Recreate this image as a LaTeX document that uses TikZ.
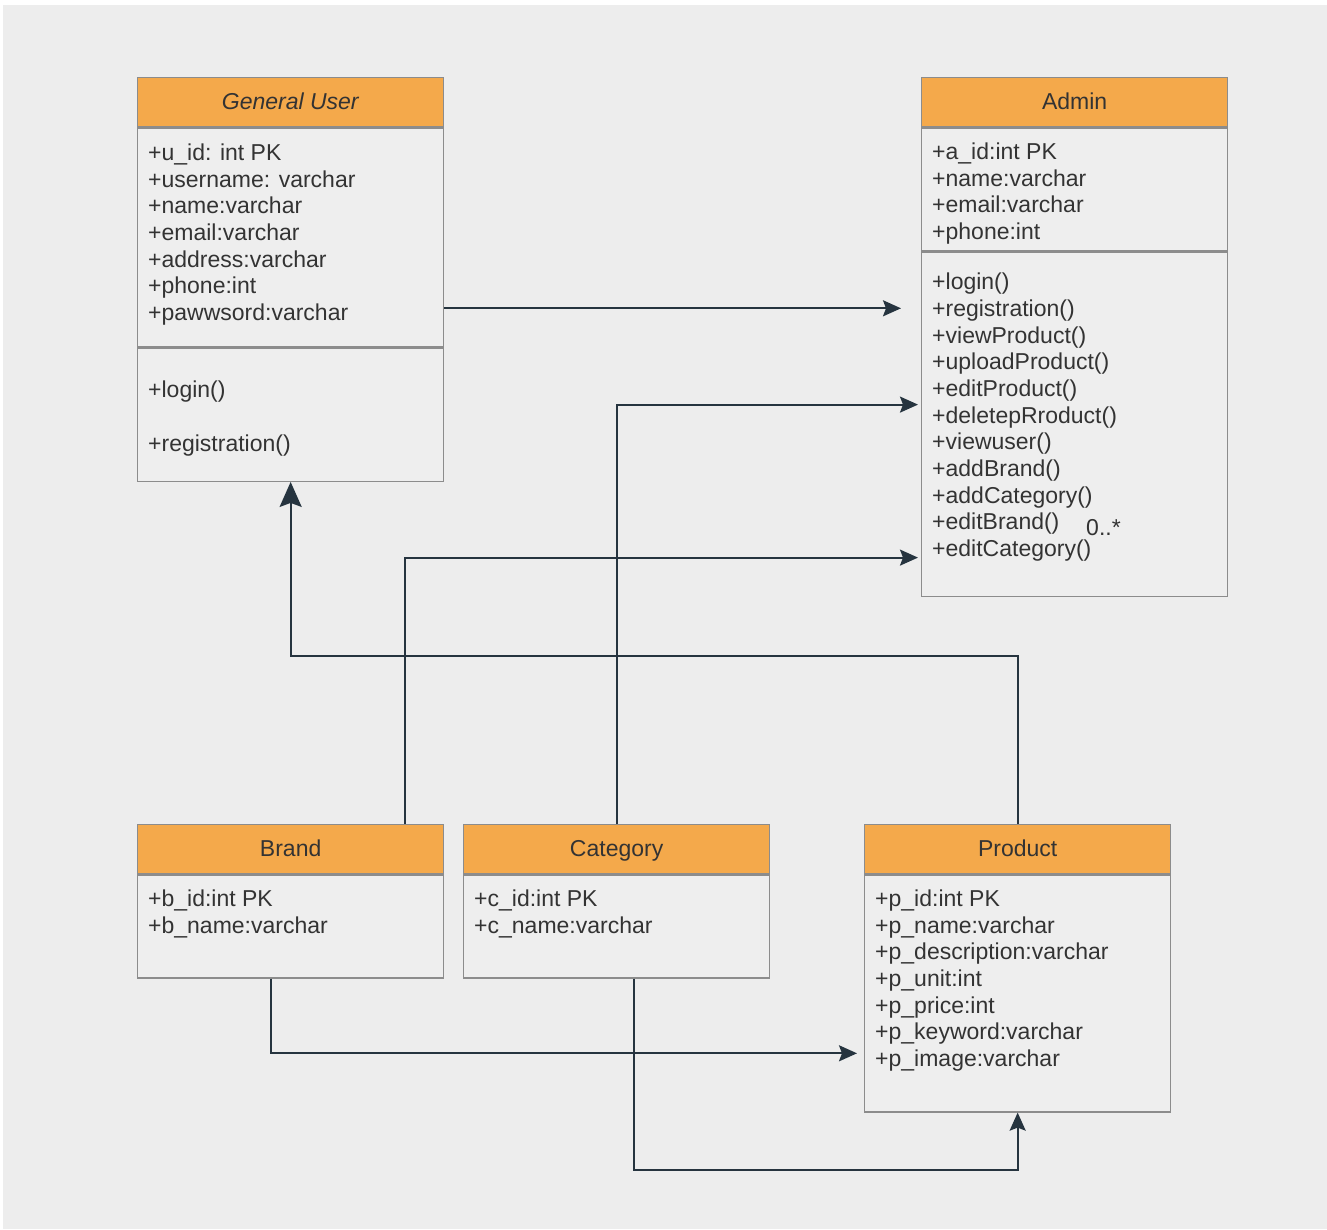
\documentclass[tikz,border=0pt]{standalone}
\usepackage{fontspec}
\setmainfont{Liberation Sans}
\usetikzlibrary{calc,arrows.meta}

\definecolor{pagebg}{HTML}{EDEDED}
\definecolor{hdrfill}{HTML}{F4A94B}
\definecolor{bodyfill}{HTML}{EEEEEE}
\definecolor{boxline}{HTML}{8C8C8C}
\definecolor{txt}{HTML}{333333}
\definecolor{linec}{HTML}{26343F}
\newcommand{\umlfont}{\fontsize{23}{27}\selectfont}

\begin{document}
\begin{tikzpicture}[x=1pt,y=-1pt,
  hdr/.style={draw=boxline, line width=1.3pt, fill=hdrfill, anchor=north west,
    minimum width=306pt, minimum height=49pt, inner sep=0pt, text=txt, font=\umlfont,
    text height=17.5pt, text depth=2pt},
  comp/.style={draw=boxline, line width=1.3pt, fill=bodyfill, anchor=north west,
    minimum width=306pt, minimum height=#1, inner sep=0pt},
  item/.style={anchor=base west, inner sep=0pt, text=txt, font=\umlfont},
  conn/.style={draw=linec, line width=2pt, -{Stealth[length=18pt,width=16pt,inset=3pt]}},
  bigconn/.style={draw=linec, line width=2pt, -{Stealth[length=25pt,width=22pt,inset=4pt]}},
]
\useasboundingbox (0,0) rectangle (1327,1229);
\fill[white] (0,0) rectangle (1327,1229);
\fill[pagebg] (3,5) rectangle (1327,1229);

% ---- General User ----
\node[hdr] (gu-h) at (137,77) {\textit{General User}};
\node[comp=219pt] (gu-a) at (gu-h.south west) {};
\node[comp=133pt] (gu-m) at (gu-a.south west) {};
\foreach \t [count=\i] in {{+u\_id: int PK},{+username: varchar},{+name:varchar},
  {+email:varchar},{+address:varchar},{+phone:int},{+pawwsord:varchar}}
  \node[item] (gu-a-\i) at ($(gu-a.north west)+(11,{33+(\i-1)*26.7})$) {\t};
\node[item] (gu-m-1) at ($(gu-m.north west)+(11,50)$) {+login()};
\node[item] (gu-m-2) at ($(gu-m.north west)+(11,104)$) {+registration()};

% ---- Admin ----
\node[hdr] (ad-h) at (921,77) {Admin};
\node[comp=123pt] (ad-a) at (ad-h.south west) {};
\node[comp=344pt] (ad-m) at (ad-a.south west) {};
\foreach \t [count=\i] in {{+a\_id:int PK},{+name:varchar},{+email:varchar},{+phone:int}}
  \node[item] (ad-a-\i) at ($(ad-a.north west)+(11,{32+(\i-1)*26.7})$) {\t};
\foreach \t [count=\i] in {{+login()},{+registration()},{+viewProduct()},{+uploadProduct()},
  {+editProduct()},{+deletepRroduct()},{+viewuser()},{+addBrand()},{+addCategory()},
  {+editBrand()},{+editCategory()}}
  \node[item] (ad-m-\i) at ($(ad-m.north west)+(11,{38+(\i-1)*26.7})$) {\t};
\node[item] (mult) at (1086,535) {0..*};

% ---- Brand ----
\node[hdr] (br-h) at (137,824) {Brand};
\node[comp=103pt] (br-a) at (br-h.south west) {};
\foreach \t [count=\i] in {{+b\_id:int PK},{+b\_name:varchar}}
  \node[item] (br-a-\i) at ($(br-a.north west)+(11,{32+(\i-1)*26.7})$) {\t};

% ---- Category ----
\node[hdr] (ca-h) at (463,824) {Category};
\node[comp=103pt] (ca-a) at (ca-h.south west) {};
\foreach \t [count=\i] in {{+c\_id:int PK},{+c\_name:varchar}}
  \node[item] (ca-a-\i) at ($(ca-a.north west)+(11,{32+(\i-1)*26.7})$) {\t};

% ---- Product ----
\node[hdr] (pr-h) at (864,824) {Product};
\node[comp=237pt] (pr-a) at (pr-h.south west) {};
\foreach \t [count=\i] in {{+p\_id:int PK},{+p\_name:varchar},{+p\_description:varchar},
  {+p\_unit:int},{+p\_price:int},{+p\_keyword:varchar},{+p\_image:varchar}}
  \node[item] (pr-a-\i) at ($(pr-a.north west)+(11,{32+(\i-1)*26.7})$) {\t};

% ---- Connectors ----
\coordinate (c1) at ($(gu-a.north east)+(0,181)$);
\draw[conn, shorten >=20pt] (c1) -- (c1 -| ad-m.west);

\coordinate (c2) at ($(ad-m.north west)+(0,153)$);
\draw[conn, shorten >=3pt] (ca-h.north) |- (c2);

\coordinate (c3s) at ($(br-h.north west)+(268,0)$);
\coordinate (c3) at ($(ad-m.north west)+(0,306)$);
\draw[conn, shorten >=3pt] (c3s) |- (c3);

\coordinate (c4) at ($(gu-m.south)+(0,174)$);
\draw[bigconn] (pr-h.north) |- (c4) -- (gu-m.south);

\coordinate (c5s) at ($(br-a.south west)+(134,0)$);
\coordinate (c5) at ($(pr-a.north west)+(0,179)$);
\draw[conn, shorten >=7pt] (c5s) |- (c5);

\coordinate (c6s) at ($(ca-a.south west)+(171,0)$);
\draw[conn] (c6s) -- ++(0,191) -| (pr-a.south);
\end{tikzpicture}
\end{document}
